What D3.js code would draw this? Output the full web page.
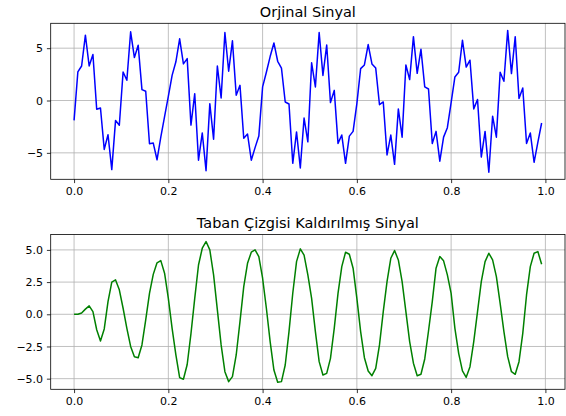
<!DOCTYPE html>
<html>
<head>
<meta charset="utf-8">
<script src="https://cdn.jsdelivr.net/npm/d3@7"></script>
<style>
  html, body { margin: 0; padding: 0; background: #fff; }
  svg { display: block; }
  text { font-family: "DejaVu Sans", sans-serif; fill: #000; }
</style>
</head>
<body>
<svg id="chart" width="566" height="416"></svg>
<script>
// Sampling interval of the recorded signal (seconds)
const sampleStep = 0.008;

// Raw signal samples
const originalSignal = [
  -1.9, 2.73, 3.3, 6.24, 3.3, 4.4, -0.84, -0.71, -4.67, -3.27,
  -6.6, -1.9, -2.37, 2.73, 1.93, 6.56, 4.1, 5.28, 1.04, 0.88,
  -4.13, -4.07, -5.66, -3.5, -1.55, 0.4, 2.4, 3.7, 5.9, 3.5,
  4.0, -2.35, 0.65, -5.7, -3.1, -6.7, -0.3, -3.7, 3.3, 0.24,
  6.5, 2.8, 5.7, 0.5, 1.45, -3.6, -3.2, -5.7, -4.5, -3.4,
  1.3, 2.7, 4.2, 5.5, 3.75, 3.1, -0.14, -0.33, -6.0, -3.0,
  -6.45, -1.67, -3.95, 3.6, 1.3, 6.5, 2.4, 5.3, -0.2, 0.97,
  -4.1, -3.3, -6.0, -3.4, -2.95, -0.3, 3.05, 3.4, 5.35, 3.5,
  3.1, -0.4, -0.14, -5.2, -3.3, -6.1, -0.8, -3.5, 3.4, 2.0,
  6.1, 2.6, 4.9, 1.3, 1.1, -4.1, -2.95, -5.8, -3.5, -2.6,
  -0.2, 2.25, 2.7, 5.76, 3.2, 3.85, -0.8, 0.1, -5.4, -2.95,
  -6.85, -1.5, -3.5, 2.7, 1.84, 6.7, 2.57, 6.1, 0.2, 1.2,
  -4.1, -3.1, -5.9, -4.0, -2.15
];

// Signal after baseline removal
const baselineRemoved = [
  0.0, 0.0, 0.1, 0.4, 0.65, 0.2, -1.2, -2.07, -1.14, 0.98,
  2.49, 2.67, 1.9, 0.47, -1.09, -2.5, -3.3, -3.37, -2.38, -0.44,
  1.63, 3.1, 4.0, 4.17, 3.19, 1.24, -1.09, -3.16, -4.92, -5.05,
  -3.9, -1.5, 1.24, 3.83, 5.13, 5.65, 5.0, 3.06, 0.34, -2.38,
  -4.46, -5.23, -4.84, -3.16, -0.57, 2.15, 3.96, 4.82, 5.0, 4.48,
  2.8, 0.47, -2.12, -4.33, -5.28, -5.23, -3.94, -1.35, 1.63, 4.09,
  5.08, 4.6, 3.06, 1.24, -1.35, -3.68, -4.72, -4.59, -3.42, -1.09,
  1.63, 3.7, 4.82, 4.66, 3.58, 1.24, -1.35, -3.37, -4.4, -4.77,
  -4.2, -2.38, 0.2, 2.54, 4.35, 4.95, 4.22, 2.54, 0.2, -2.12,
  -3.8, -4.77, -4.66, -3.47, -1.3, 0.98, 3.58, 4.48, 4.15, 3.06,
  1.63, -1.09, -3.03, -4.4, -4.9, -4.07, -2.12, 0.2, 2.54, 4.09,
  4.74, 4.22, 2.93, 0.85, -1.35, -3.29, -4.46, -4.66, -3.68, -1.48,
  1.5, 3.7, 4.74, 4.87, 3.89
];

// Tick positions and titles
const xTicks = [0, 0.2, 0.4, 0.6, 0.8, 1.0];
const topYTicks = [-5, 0, 5];
const bottomYTicks = [-5, -2.5, 0, 2.5, 5];
const topTitle = "Orjinal Sinyal";
const bottomTitle = "Taban Çizgisi Kaldırılmış Sinyal";

const times = originalSignal.map((_, i) => i * sampleStep);

const svg = d3.select("#chart");
const minus = s => s.replace("-", "\u2212");

// Domain padded by 5% on each side
function padded(ext) {
  const m = (ext[1] - ext[0]) * 0.05;
  return [ext[0] - m, ext[1] + m];
}

function panel(opts) {
  const { values, color, yTicks, yFormat, box, title } = opts;
  const g = svg.append("g");

  const x = d3.scaleLinear().domain(padded(d3.extent(times))).range([box.left, box.right]);
  const y = d3.scaleLinear().domain(padded(d3.extent(values))).range([box.bottom, box.top]);

  // grid
  const grid = g.append("g").attr("stroke", "#b0b0b0").attr("stroke-width", 0.8);
  grid.selectAll(".gx").data(xTicks).join("line")
    .attr("x1", d => x(d)).attr("x2", d => x(d))
    .attr("y1", box.top).attr("y2", box.bottom);
  grid.selectAll(".gy").data(yTicks).join("line")
    .attr("x1", box.left).attr("x2", box.right)
    .attr("y1", d => y(d)).attr("y2", d => y(d));

  // signal trace
  const line = d3.line().x((d, i) => x(times[i])).y(d => y(d));
  g.append("path")
    .datum(values)
    .attr("fill", "none")
    .attr("stroke", color)
    .attr("stroke-width", 1.5)
    .attr("stroke-linejoin", "round")
    .attr("d", line);

  // axes
  const xAxis = d3.axisBottom(x).tickValues(xTicks).tickFormat(d3.format(".1f"))
    .tickSize(3.8).tickPadding(3.8);
  const yAxis = d3.axisLeft(y).tickValues(yTicks).tickFormat(d => minus(yFormat(d)))
    .tickSize(3.8).tickPadding(3.8);

  const gx = g.append("g").attr("transform", `translate(0,${box.bottom})`).call(xAxis);
  const gy = g.append("g").attr("transform", `translate(${box.left},0)`).call(yAxis);
  [gx, gy].forEach(a => {
    a.select(".domain").remove();
    a.selectAll(".tick line").attr("stroke", "#000").attr("stroke-width", 0.8);
    a.selectAll(".tick text").attr("font-size", 11).attr("font-family", "DejaVu Sans").attr("fill", "#000");
  });

  // frame
  g.append("rect")
    .attr("x", box.left).attr("y", box.top)
    .attr("width", box.right - box.left).attr("height", box.bottom - box.top)
    .attr("fill", "none").attr("stroke", "#000").attr("stroke-width", 0.8);

  // title
  g.append("text")
    .attr("x", (box.left + box.right) / 2)
    .attr("y", box.top - 6.5)
    .attr("text-anchor", "middle")
    .attr("font-size", 14.5)
    .text(title);
}

panel({
  values: originalSignal, color: "#0000ff", yTicks: topYTicks,
  yFormat: d3.format("d"),
  box: { left: 50.7, right: 565, top: 23.3, bottom: 179.3 },
  title: topTitle
});

panel({
  values: baselineRemoved, color: "#008000", yTicks: bottomYTicks,
  yFormat: d3.format(".1f"),
  box: { left: 50.7, right: 565, top: 234.5, bottom: 389.3 },
  title: bottomTitle
});
</script>
</body>
</html>
